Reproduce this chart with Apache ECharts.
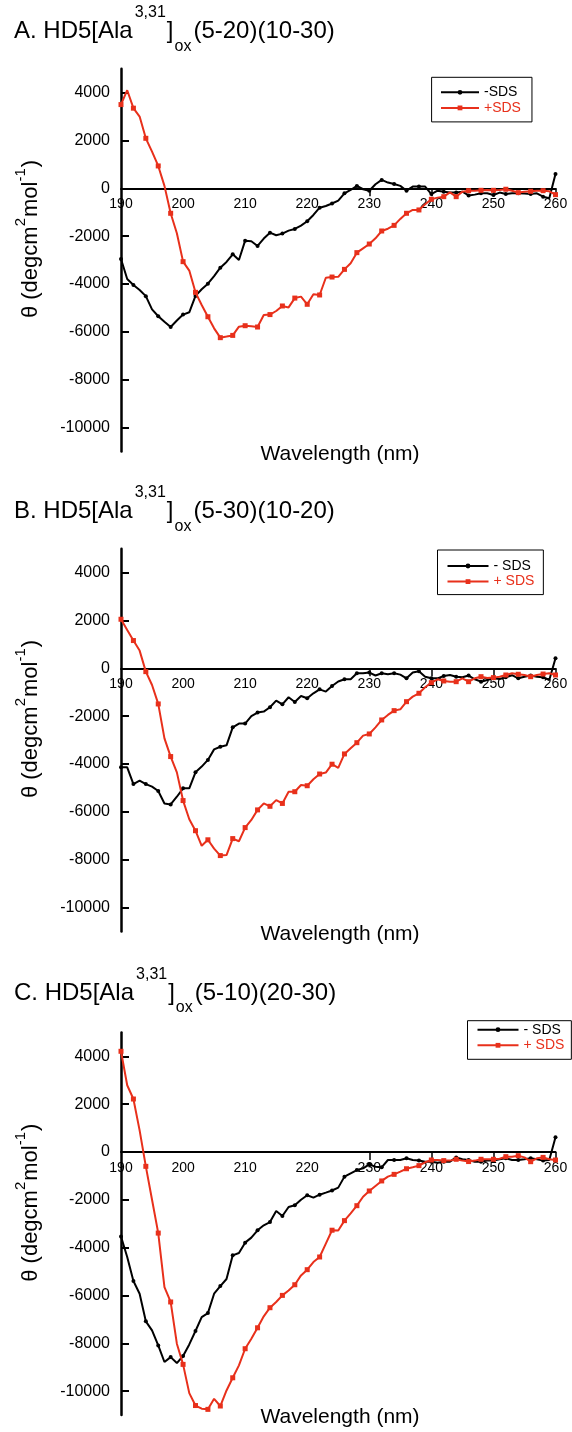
<!DOCTYPE html>
<html><head><meta charset="utf-8">
<script src="https://cdn.jsdelivr.net/npm/echarts@6/dist/echarts.min.js"></script>
<style>html,body{margin:0;padding:0;background:#fff}#chart{width:572px;height:1432px}</style>
</head><body><div id="chart"></div>
<script>
// ---------- DATA ----------
const WAVELENGTHS = [190,191,192,193,194,195,196,197,198,199,
  200,201,202,203,204,205,206,207,208,209,
  210,211,212,213,214,215,216,217,218,219,
  220,221,222,223,224,225,226,227,228,229,
  230,231,232,233,234,235,236,237,238,239,
  240,241,242,243,244,245,246,247,248,249,
  250,251,252,253,254,255,256,257,258,259,
  260];
const X_TICK_MARKS = [230, 240, 250, 260];
const Y_TICKS = [-10000, -8000, -6000, -4000, -2000, 0, 2000, 4000];
const Y_MIN = -11000, Y_MAX = 5000;

const A_MINUS = [-2955,-3790,-4040,-4250,-4510,-5060,-5350,-5580,-5800,-5530,
  -5280,-5185,-4500,-4220,-3990,-3670,-3320,-3080,-2760,-3000,
  -2190,-2215,-2410,-2100,-1855,-1965,-1895,-1770,-1700,-1560,
  -1380,-1115,-810,-740,-635,-515,-210,-70,100,-40,
  -100,170,350,240,180,100,-100,70,80,70,
  -240,-100,-140,-180,-180,-140,-300,-265,-210,-210,
  -280,-180,-240,-210,-210,-220,-240,-210,-350,-420,
  600];
const A_PLUS = [3500,4100,3350,3000,2090,1530,934,100,-1045,-1880,
  -3067,-3440,-4350,-4880,-5370,-5855,-6245,-6200,-6150,-5785,
  -5745,-5770,-5800,-5300,-5280,-5130,-4920,-4980,-4590,-4530,
  -4850,-4430,-4460,-3740,-3710,-3700,-3390,-3135,-2690,-2510,
  -2330,-2090,-1785,-1690,-1550,-1280,-1045,-905,-905,-670,
  -460,-390,-350,-170,-350,-140,-100,-100,-85,-70,
  -85,-70,-40,-100,-180,-140,-125,-100,-100,-125,
  -265];
const B_MINUS = [-4140,-4140,-4840,-4700,-4840,-4950,-5130,-5650,-5690,-5370,
  -5020,-5020,-4350,-4110,-3830,-3390,-3280,-3220,-2470,-2310,
  -2310,-2000,-1850,-1810,-1630,-1350,-1505,-1210,-1410,-1160,
  -1255,-1045,-880,-975,-740,-550,-460,-460,-210,-210,
  -180,-300,-210,-250,-210,-265,-420,-180,-125,-350,
  -420,-420,-320,-280,-350,-375,-305,-460,-560,-490,
  -420,-445,-375,-290,-420,-350,-305,-350,-375,-490,
  420];
const B_PLUS = [2050,1600,1160,740,-140,-700,-1490,-2930,-3690,-4350,
  -5530,-6310,-6790,-7420,-7170,-7540,-7830,-7810,-7120,-7230,
  -6660,-6340,-5920,-5650,-5770,-5510,-5650,-5160,-5160,-4880,
  -4910,-4640,-4420,-4360,-4010,-4160,-3580,-3345,-3110,-2815,
  -2745,-2470,-2160,-1950,-1770,-1715,-1395,-1185,-1045,-795,
  -600,-460,-530,-560,-560,-420,-560,-420,-350,-405,
  -390,-350,-280,-210,-250,-280,-350,-280,-240,-210,
  -280];
const C_MINUS = [-3530,-4390,-5395,-5925,-7080,-7460,-8085,-8780,-8575,-8825,
  -8530,-8045,-7485,-6900,-6735,-5925,-5605,-5310,-4320,-4225,
  -3790,-3580,-3275,-3065,-2930,-2470,-2675,-2300,-2230,-1995,
  -1810,-1910,-1785,-1700,-1610,-1490,-1030,-890,-755,-685,
  -515,-615,-640,-335,-335,-335,-265,-335,-360,-405,
  -405,-445,-405,-405,-225,-305,-335,-405,-405,-360,
  -360,-305,-265,-335,-335,-305,-265,-305,-360,-335,
  615];
const C_PLUS = [4210,2790,2215,905,-600,-1995,-3390,-5650,-6270,-8015,
  -8880,-10080,-10600,-10730,-10760,-10320,-10620,-9970,-9440,-8920,
  -8225,-7810,-7350,-6870,-6510,-6270,-5995,-5790,-5550,-5160,
  -4920,-4600,-4390,-3830,-3270,-3280,-2870,-2565,-2245,-1870,
  -1630,-1420,-1210,-1030,-935,-820,-700,-640,-570,-430,
  -335,-335,-360,-360,-305,-360,-400,-360,-305,-305,
  -305,-280,-195,-195,-155,-225,-405,-265,-225,-305,
  -335];

const TITLES = [
  ['A. HD5[Ala', '3,31', ']', 'ox', '(5-20)(10-30)'],
  ['B. HD5[Ala', '3,31', ']', 'ox', '(5-30)(10-20)'],
  ['C. HD5[Ala', '3,31', ']', 'ox', '(5-10)(20-30)']
];
const LEGEND_NAMES = [['-SDS', '+SDS'], ['- SDS', '+ SDS'], ['- SDS', '+ SDS']];
const SERIES_MINUS = [A_MINUS, B_MINUS, C_MINUS];
const SERIES_PLUS = [A_PLUS, B_PLUS, C_PLUS];
const Y_NAME = ['θ (degcm', '2', 'mol', '-1', ')'];
const X_NAME = 'Wavelength (nm)';

// ---------- STYLE / LAYOUT ----------
const FONT = '"Liberation Sans", Arial, Helvetica, sans-serif';
const RED = '#e8301b';
const GRID_LEFT = 121, GRID_W = 434.5, GRID_H = 382.7;
// distance from bottom of grid up to the zero line (x axis sits on y = 0)
const ZERO_OFFSET = GRID_H * (0 - Y_MIN) / (Y_MAX - Y_MIN);
const PANELS = [
  { top: 68.7,   titleBase: 40,     lg: { left: 431.6, top: 77.3,   pad: [8, 11, 7, 8.4], iw: 38 } },
  { top: 548.7,  titleBase: 520,    lg: { left: 437.5, top: 550,    pad: [9, 9, 6, 9],    iw: 41 } },
  { top: 1032.4, titleBase: 1001.5, lg: { left: 467.5, top: 1020.7, pad: [2, 7, 7, 9],    iw: 41 } }
];

const mctx = document.createElement('canvas').getContext('2d');
function tw(t, size) { mctx.font = size + 'px ' + FONT; return mctx.measureText(t).width; }
function txt(x, baseline, t, size) {
  return { type: 'text', x: x, y: baseline - 0.35 * size, silent: true,
    style: { text: t, fontSize: size, fontFamily: FONT, fill: '#000', align: 'left', verticalAlign: 'middle' } };
}

function titleElems(parts, x0, base) {
  const M = 24, S = 16;
  const out = [];
  let x = x0;
  out.push(txt(x, base, parts[0], M)); x += tw(parts[0], M) + 2;
  out.push(txt(x, base - 21.7, parts[1], S)); x += tw(parts[1], S) + 1;
  out.push(txt(x, base, parts[2], M)); x += tw(parts[2], M) + 1;
  out.push(txt(x, base + 11.7, parts[3], S)); x += tw(parts[3], S) + 2;
  out.push(txt(x, base, parts[4], M));
  return out;
}

function yNameGroup(cx, cy) {
  const M = 22, S = 15;
  const sizes = [M, S, M, S, M];
  const dys = [0, -12.8, 0, -12.8, 0];
  const widths = Y_NAME.map((t, i) => tw(t, sizes[i]));
  const total = widths.reduce((a, b) => a + b, 0) + 2;
  let x = -total / 2;
  const children = Y_NAME.map((t, i) => {
    const e = txt(x, dys[i], t, sizes[i]);
    x += widths[i] + (i === 1 || i === 3 ? 1 : 0);
    return e;
  });
  return { type: 'group', x: cx, y: cy, rotation: Math.PI / 2, children: children };
}

const grids = [], xAxes = [], yAxes = [], series = [], legends = [], graphics = [];
PANELS.forEach((p, i) => {
  grids.push({ left: GRID_LEFT, top: p.top, width: GRID_W, height: GRID_H, containLabel: false });
  xAxes.push({
    gridIndex: i, type: 'value', min: 190, max: 260, interval: 10,
    position: 'bottom', offset: -ZERO_OFFSET,
    axisLine: { onZero: false, lineStyle: { color: '#000', width: 2 } },
    axisTick: { show: true, inside: false, length: 8, customValues: X_TICK_MARKS, lineStyle: { color: '#000', width: 1.5 } },
    axisLabel: { margin: 9, fontSize: 14, color: '#000', fontFamily: FONT, showMinLabel: true, showMaxLabel: true,
      formatter: (v) => String(v) },
    splitLine: { show: false }
  });
  yAxes.push({
    gridIndex: i, type: 'value', min: Y_MIN, max: Y_MAX, interval: 1000,
    axisLine: { show: true, onZero: false, lineStyle: { color: '#000', width: 2.5 } },
    axisTick: { show: true, inside: true, length: 8, customValues: Y_TICKS, lineStyle: { color: '#000', width: 2 } },
    axisLabel: { margin: 11, fontSize: 16, color: '#000', fontFamily: FONT, customValues: Y_TICKS,
      formatter: (v) => String(v) },
    splitLine: { show: false }
  });
  const names = LEGEND_NAMES[i];
  series.push({
    type: 'line', name: names[0], xAxisIndex: i, yAxisIndex: i,
    data: WAVELENGTHS.map((w, k) => [w, SERIES_MINUS[i][k]]),
    symbol: 'circle', symbolSize: (v) => (v[0] % 2 === 0 ? 4 : 0),
    lineStyle: { color: '#000', width: 2 }, itemStyle: { color: '#000' },
    silent: true, z: 3
  });
  series.push({
    type: 'line', name: names[1], xAxisIndex: i, yAxisIndex: i,
    data: WAVELENGTHS.map((w, k) => [w, SERIES_PLUS[i][k]]),
    symbol: 'rect', symbolSize: (v) => (v[0] % 2 === 0 ? 5 : 0),
    lineStyle: { color: RED, width: 2 }, itemStyle: { color: RED },
    silent: true, z: 4
  });
  legends.push({
    orient: 'vertical', left: p.lg.left, top: p.lg.top, padding: p.lg.pad,
    itemWidth: p.lg.iw, itemHeight: 6, itemGap: 1.6,
    borderColor: '#000', borderWidth: 1, backgroundColor: '#fff', borderRadius: 0,
    selectedMode: false,
    textStyle: { fontSize: 14, fontFamily: FONT, lineHeight: 14 },
    data: [ { name: names[0], textStyle: { color: '#000' } }, { name: names[1], textStyle: { color: RED } } ]
  });
  titleElems(TITLES[i], 14, p.titleBase).forEach(e => graphics.push(e));
  graphics.push(yNameGroup(38.5, p.top + 170.3));
  const xn = txt(0, p.top + 392.5, X_NAME, 21);
  xn.x = 340; xn.style.align = 'center';
  graphics.push(xn);
});

const chart = echarts.init(document.getElementById('chart'), null, { renderer: 'canvas', width: 572, height: 1432 });
chart.setOption({
  animation: false,
  backgroundColor: '#fff',
  textStyle: { fontFamily: FONT },
  grid: grids, xAxis: xAxes, yAxis: yAxes, series: series, legend: legends,
  graphic: { elements: graphics }
});
</script></body></html>
